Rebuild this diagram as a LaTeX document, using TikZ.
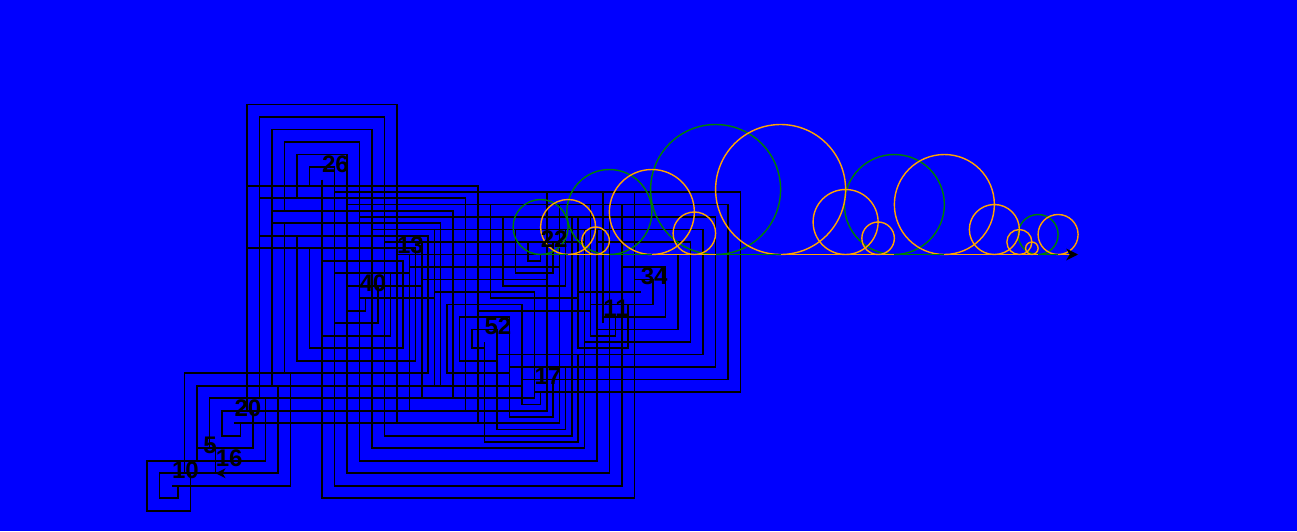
\documentclass[tikz,border=0pt]{standalone}
\usepackage{fontspec}
\setmainfont{Liberation Sans}
\usetikzlibrary{arrows.meta,calc}

\definecolor{bgblue}{RGB}{0,0,255}
\definecolor{arcorange}{RGB}{255,165,0}
\definecolor{arcgreen}{RGB}{0,128,0}

\tikzset{
  spiral/.style={black, line width=1.7pt},
  numlabel/.style={anchor=west, inner sep=0pt, font=\fontsize{24}{24}\selectfont\bfseries},
  evenstep/.style={arcorange, line width=1.4pt},
  oddstep/.style={arcgreen, line width=1.4pt}
}

\begin{document}
\begin{tikzpicture}[x=1pt, y=-1pt]

% Background
\fill[bgblue] (0,0) rectangle (1297,531);
\useasboundingbox (0,0) rectangle (1297,531);

% Spiral step
\def\hs{6.25}

% Start of the sequence
\coordinate (c22) at (540.6,254.5);

% Spiral centres (offsets in steps)
\foreach \n/\dx/\dy in {11/10/11, 34/16/6, 17/-1/22, 52/-9/14, 26/-35/-12,
                        13/-23/1, 40/-29/7, 20/-49/27, 10/-59/37, 5/-54/33, 16/-52/35}
  \coordinate (c\n) at ($(c22)+(\dx*\hs,\dy*\hs)$);

% Spirals, one for each number
\foreach \n/\a in {22/90, 11/270, 34/180, 17/0, 52/90, 26/90, 13/270, 40/0, 20/0, 10/0, 5/180}{
  \pgfmathtruncatemacro{\m}{\n-1}
  \draw[spiral] (c\n) \foreach \i in {1,...,\m}{ -- ++({\a+90*(\i-1)}:{\i*\hs}) };
}

% Turtle at the end of the spirals
\fill (c16) -- ++(10,-5) -- ++(-3,5) -- ++(3,5) -- cycle;

% Circles on the base line
\foreach \x/\r in {540.6/27.5, 609.35/42.5, 715.6/65, 894.35/50, 1038.1/20}
  \draw[oddstep] (\x,254.5-\r) circle[radius=\r pt];
\foreach \x/\r in {568.1/27.5, 595.6/13.75, 651.85/42.5, 694.35/21.25, 780.6/65, 845.6/32.5,
                   878.1/16.25, 944.35/50, 994.35/25, 1019.35/12.5, 1031.85/6.25, 1058.1/20}
  \draw[evenstep] (\x,254.5-\r) circle[radius=\r pt];

% Base line
\coordinate (b0) at (540.6,254.5);
\coordinate (bend) at (1078.1,254.5);
\foreach \xa/\xb/\s in {540.6/568.1/oddstep, 568.1/609.35/evenstep, 609.35/651.85/oddstep,
                        651.85/715.6/evenstep, 715.6/780.6/oddstep, 780.6/894.35/evenstep,
                        894.35/944.35/oddstep, 944.35/1038.1/evenstep, 1038.1/1058.1/oddstep,
                        1058.1/1078.1/evenstep}
  \draw[\s] (\xa,254.5) -- (\xb,254.5);
\fill (bend) -- ++(-12,-6) -- ++(3.5,6) -- ++(-3.5,6) -- cycle;

% Labels
\foreach \n in {22,11,34,17,52,26,13,40,20,10,5,16}
  \node[numlabel] (l\n) at ($(c\n)+(0,-15.5)$) {\n};

\end{tikzpicture}
\end{document}
